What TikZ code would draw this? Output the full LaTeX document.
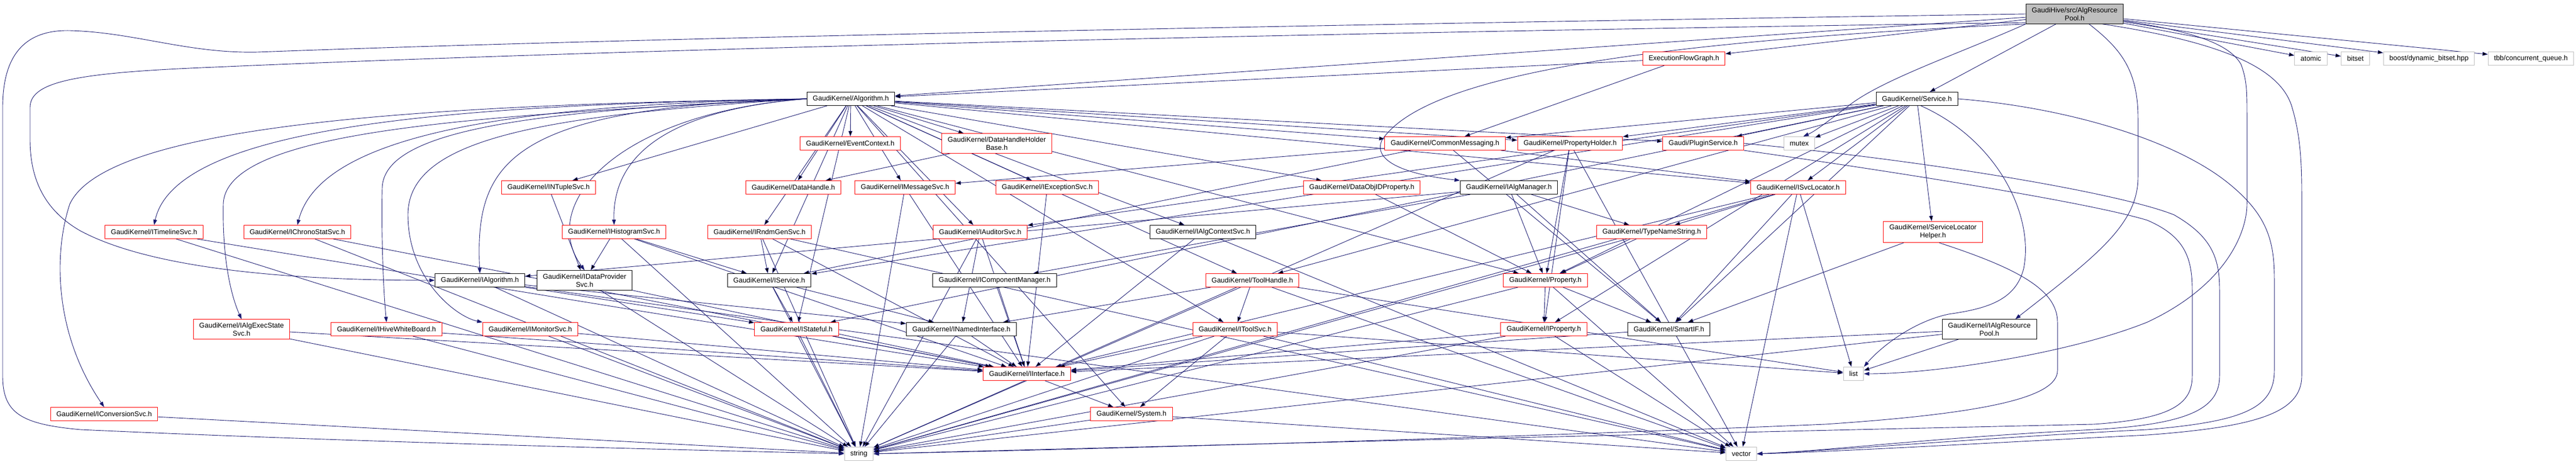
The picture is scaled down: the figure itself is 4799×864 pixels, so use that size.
\documentclass[tikz,border=0pt]{standalone}
\usepackage{fontspec}
\setmainfont{Liberation Sans}
\usetikzlibrary{arrows.meta}
\definecolor{edgeblue}{HTML}{191970}
\definecolor{cutred}{HTML}{FF0000}
\definecolor{sysgrey}{HTML}{BFBFBF}
\pgfdeclarelayer{back}
\pgfsetlayers{back,main}

\begin{document}
\begin{tikzpicture}[
    x=1pt, y=-1pt,
    >={Triangle[length=10pt,width=7pt]},
    hdr/.style={draw=black, line width=1pt, fill=white, inner xsep=11pt, inner ysep=6pt,
        minimum height=25pt, align=center, font=\fontsize{13}{15}\selectfont},
    cut/.style={hdr, draw=cutred},
    sys/.style={hdr, draw=sysgrey},
    rootfile/.style={hdr, fill=sysgrey},
    dep/.style={->, draw=edgeblue, line width=0.9pt}
]
\useasboundingbox (0,0) rectangle (4799,864);

% rank 0 and 1
\node[rootfile] (root) at (3865,26) {GaudiHive/src/AlgResource\\Pool.h};
\node[sys] (atomic) at (4305,109) {atomic};
\node[sys] (bitset) at (4388,109) {bitset};
\node[sys] (boostdb) at (4525,109) {boost/dynamic\_bitset.hpp};
\node[sys] (tbbq) at (4715,109) {tbb/concurrent\_queue.h};
\node[cut] (efg) at (3137,109) {ExecutionFlowGraph.h};
\node[hdr] (alg) at (1585,184) {GaudiKernel/Algorithm.h};
\node[hdr] (svc) at (3571,184) {GaudiKernel/Service.h};

% rank 2
\node[sys] (mutex) at (3352,267) {mutex};
\node[cut] (plugin) at (3173,267) {Gaudi/PluginService.h};
\node[cut] (commsg) at (2692,267) {GaudiKernel/CommonMessaging.h};
\node[cut] (propholder) at (2925,267) {GaudiKernel/PropertyHolder.h};
\node[cut] (evtctx) at (1584,267) {GaudiKernel/EventContext.h};
\node[cut] (dhhb) at (1857,267) {GaudiKernel/DataHandleHolder\\Base.h};

% rank 3
\node[cut] (ntuple) at (1022,349) {GaudiKernel/INTupleSvc.h};
\node[cut] (datahandle) at (1478,349) {GaudiKernel/DataHandle.h};
\node[cut] (msgsvc) at (1686,349) {GaudiKernel/IMessageSvc.h};
\node[cut] (excsvc) at (1951,349) {GaudiKernel/IExceptionSvc.h};
\node[cut] (dataobjid) at (2537,349) {GaudiKernel/DataObjIDProperty.h};
\node[hdr] (algmgr) at (2811,349) {GaudiKernel/IAlgManager.h};
\node[cut] (svcloc) at (3350,349) {GaudiKernel/ISvcLocator.h};

% rank 4
\node[cut] (timeline) at (287,432) {GaudiKernel/ITimelineSvc.h};
\node[cut] (chrono) at (554,432) {GaudiKernel/IChronoStatSvc.h};
\node[cut] (histo) at (1144,432) {GaudiKernel/IHistogramSvc.h};
\node[cut] (rndm) at (1415,432) {GaudiKernel/IRndmGenSvc.h};
\node[cut] (auditor) at (1826,432) {GaudiKernel/IAuditorSvc.h};
\node[hdr] (algctx) at (2241,432) {GaudiKernel/IAlgContextSvc.h};
\node[cut] (typename) at (3077,432) {GaudiKernel/TypeNameString.h};
\node[cut] (slhelper) at (3601,432) {GaudiKernel/ServiceLocator\\Helper.h};

% rank 5
\node[hdr] (ialg) at (894,522) {GaudiKernel/IAlgorithm.h};
\node[hdr] (idp) at (1089,522) {GaudiKernel/IDataProvider\\Svc.h};
\node[hdr] (iservice) at (1433,522) {GaudiKernel/IService.h};
\node[hdr] (compmgr) at (1853,522) {GaudiKernel/IComponentManager.h};
\node[cut] (toolhandle) at (2333,522) {GaudiKernel/ToolHandle.h};
\node[cut] (property) at (2879,522) {GaudiKernel/Property.h};

% rank 6
\node[cut] (execstate) at (450,613) {GaudiKernel/IAlgExecState\\Svc.h};
\node[cut] (whiteboard) at (720,613) {GaudiKernel/IHiveWhiteBoard.h};
\node[cut] (monitor) at (988,613) {GaudiKernel/IMonitorSvc.h};
\node[cut] (stateful) at (1484,613) {GaudiKernel/IStateful.h};
\node[hdr] (named) at (1791,613) {GaudiKernel/INamedInterface.h};
\node[cut] (toolsvc) at (2301,613) {GaudiKernel/IToolSvc.h};
\node[cut] (iproperty) at (2876,613) {GaudiKernel/IProperty.h};
\node[hdr] (smartif) at (3109,613) {GaudiKernel/SmartIF.h};
\node[hdr] (respool) at (3706,613) {GaudiKernel/IAlgResource\\Pool.h};

% rank 7 to 9
\node[cut] (iinterface) at (1913,696) {GaudiKernel/IInterface.h};
\node[sys] (list) at (3453,696) {list};
\node[cut] (conversion) at (194,771) {GaudiKernel/IConversionSvc.h};
\node[cut] (system) at (2108,771) {GaudiKernel/System.h};
\node[sys] (string) at (1600,845) {string};
\node[sys] (vector) at (3244,845) {vector};

\begin{pgfonlayer}{back}
\path[dep]
    (root) edge (atomic)
    (root) edge (bitset)
    (root) edge (boostdb)
    (root) edge (tbbq)
    (root) edge (efg)
    (root) edge (alg)
    (root) edge (svc)
    (efg) edge (alg)
    (efg) edge (commsg);

\path[dep]
    (alg) edge (evtctx)
    (alg) edge (dhhb)
    (alg) edge (ntuple)
    (alg) edge (datahandle)
    (alg) edge (msgsvc)
    (alg) edge (excsvc)
    (alg) edge (dataobjid)
    (alg) edge (commsg)
    (alg) edge (propholder)
    (alg) edge (plugin)
    (alg) edge (svcloc)
    (alg) edge (rndm)
    (alg) edge (auditor)
    (alg) edge (algctx)
    (alg) edge (iservice)
    (alg) edge (toolhandle)
    (alg) edge (property)
    (alg) edge (stateful)
    (alg) edge (toolsvc)
    (alg) edge (system);

% Algorithm.h fans out to the left
\draw[dep] (alg.west) .. controls (900,195) and (330,225) .. (timeline.north);
\draw[dep] (alg.west) .. controls (1000,195) and (600,240) .. (chrono.north);
\draw[dep] (alg.west) .. controls (800,195) and (200,230) .. (130,380)
    .. controls (100,470) and (100,620) .. (conversion.north);
\draw[dep] (alg.west) .. controls (900,215) and (420,240) .. (416,380)
    .. controls (414,480) and (430,550) .. (execstate.north);
\draw[dep] (alg.west) .. controls (1000,205) and (715,240) .. (712,350)
    .. controls (710,450) and (715,550) .. (whiteboard.north);
\draw[dep] (alg.west) .. controls (1000,215) and (760,260) .. (760,400)
    .. controls (760,520) and (850,590) .. (monitor.north west);
\draw[dep] (alg.west) .. controls (1300,200) and (1140,260) .. (histo.north);
\draw[dep] (alg.west) .. controls (950,200) and (884,300) .. (ialg.north);
\draw[dep] (alg.west) .. controls (1150,210) and (1000,380) .. (idp.north);

\path[dep]
    (svc) edge (commsg)
    (svc) edge (propholder)
    (svc) edge (plugin)
    (svc) edge (mutex)
    (svc) edge (svcloc)
    (svc) edge (slhelper)
    (svc) edge (iservice)
    (svc) edge (stateful)
    (svc) edge (auditor)
    (svc) edge (toolhandle)
    (svc) edge (property)
    (svc) edge (iproperty)
    (svc) edge (smartif);

\path[dep]
    (commsg) edge (msgsvc)
    (commsg) edge (iservice)
    (commsg) edge (svcloc)
    (commsg) edge (smartif)
    (propholder) edge (property)
    (propholder) edge (iproperty)
    (propholder) edge (string)
    (propholder) edge (vector)
    (dhhb) edge (datahandle)
    (ntuple) edge (idp)
    (msgsvc) edge (iinterface)
    (msgsvc) edge (string)
    (excsvc) edge (iinterface)
    (dataobjid) edge (property)
    (algmgr) edge (ialg)
    (algmgr) edge (compmgr)
    (algmgr) edge (typename)
    (algmgr) edge (smartif)
    (algmgr) edge (property)
    (svcloc) edge (typename)
    (svcloc) edge (iinterface)
    (svcloc) edge (smartif)
    (svcloc) edge (string)
    (svcloc) edge (list)
    (svcloc) edge (vector);

\path[dep]
    (timeline) edge (iinterface)
    (timeline) edge (string)
    (chrono) edge (iinterface)
    (chrono) edge (string)
    (histo) edge (idp)
    (histo) edge (iservice)
    (histo) edge (iinterface)
    (histo) edge (string)
    (rndm) edge (iservice)
    (rndm) edge (iinterface)
    (rndm) edge (string)
    (rndm) edge (vector)
    (auditor) edge (iinterface)
    (auditor) edge (named)
    (auditor) edge (string)
    (algctx) edge (iinterface)
    (algctx) edge (vector)
    (typename) edge (property)
    (typename) edge (string)
    (slhelper) edge (smartif);

\path[dep]
    (ialg) edge (named)
    (ialg) edge (stateful)
    (ialg) edge (string)
    (ialg) edge (vector)
    (idp) edge (iinterface)
    (idp) edge (string)
    (iservice) edge (stateful)
    (iservice) edge (named)
    (iservice) edge (string)
    (compmgr) edge (iinterface)
    (toolhandle) edge (toolsvc)
    (toolhandle) edge (named)
    (toolhandle) edge (string)
    (toolhandle) edge (vector)
    (toolhandle) edge (list)
    (property) edge (iproperty)
    (property) edge (smartif)
    (property) edge (string)
    (property) edge (vector);

\path[dep]
    (execstate) edge (iinterface)
    (execstate) edge (string)
    (whiteboard) edge (iinterface)
    (whiteboard) edge (string)
    (monitor) edge (iinterface)
    (monitor) edge (string)
    (stateful) edge (iinterface)
    (stateful) edge (string)
    (named) edge (iinterface)
    (named) edge (string)
    (toolsvc) edge (iinterface)
    (toolsvc) edge (system)
    (toolsvc) edge (string)
    (toolsvc) edge (list)
    (toolsvc) edge (vector)
    (iproperty) edge (iinterface)
    (iproperty) edge (string)
    (iproperty) edge (vector)
    (smartif) edge (iinterface)
    (respool) edge (iinterface)
    (respool) edge (list)
    (respool) edge (string)
    (iinterface) edge (system)
    (system) edge (string)
    (system) edge (vector)
    (conversion) edge (string);

% long routes around the graph
\draw[dep] (root.west) .. controls (2500,45) and (1200,70) .. (480,97)
    .. controls (350,100) and (250,60) .. (130,57)
    .. controls (40,55) and (5,110) .. (5,200) -- (5,700)
    .. controls (5,770) and (40,790) .. (150,800)
    .. controls (700,825) and (1300,838) .. (string.west);
\draw[dep] (root.190) .. controls (2500,60) and (1200,90) .. (400,125)
    .. controls (150,135) and (56,150) .. (56,200) -- (56,260)
    .. controls (56,330) and (80,390) .. (150,430)
    .. controls (300,510) and (600,522) .. (ialg.west);
\draw[dep] (root.south west) .. controls (3000,80) and (2650,150) .. (2575,260)
    .. controls (2555,300) and (2620,325) .. (algmgr.north west);
\draw[dep] (root.south west) .. controls (3650,100) and (3500,150) .. (3440,200)
    .. controls (3400,230) and (3380,245) .. (mutex.60);
\draw[dep] (root.-35) .. controls (3950,90) and (3983,130) .. (3983,220) -- (3983,330)
    .. controls (3983,420) and (3900,480) .. ([xshift=-40pt]respool.north east);
\draw[dep] (root.-8) .. controls (4060,55) and (4150,75) .. (4175,120)
    .. controls (4186,150) and (4186,170) .. (4186,220) -- (4186,380)
    .. controls (4186,430) and (4150,530) .. (4000,600)
    .. controls (3850,660) and (3600,696) .. (list.east);
\draw[dep] (root.-20) .. controls (4150,80) and (4250,130) .. (4270,200)
    .. controls (4285,250) and (4288,300) .. (4288,360) -- (4288,700)
    .. controls (4288,770) and (4200,795) .. (4000,810)
    .. controls (3700,825) and (3400,842) .. (vector.east);
\draw[dep] (svc.east) .. controls (3850,200) and (4050,260) .. (4150,340)
    .. controls (4225,400) and (4237,450) .. (4237,520) -- (4237,690)
    .. controls (4237,760) and (4180,785) .. (4000,800)
    .. controls (3700,815) and (3400,840) .. (vector.east);
\draw[dep] (svc.-60) .. controls (3720,260) and (3790,400) .. (3770,500)
    .. controls (3755,560) and (3700,575) .. (3630,585)
    .. controls (3560,600) and (3500,650) .. (list.north east);
\draw[dep] (plugin.south east) .. controls (3600,330) and (3900,380) .. (4000,410)
    .. controls (4070,440) and (4084,480) .. (4084,540) -- (4084,700)
    .. controls (4084,750) and (4050,780) .. (3900,790)
    .. controls (3000,810) and (2200,830) .. (string.east);
\draw[dep] (plugin.east) .. controls (3600,300) and (3950,360) .. (4050,400)
    .. controls (4120,440) and (4135,480) .. (4135,540) -- (4135,700)
    .. controls (4135,760) and (4080,790) .. (3900,800)
    .. controls (3600,815) and (3400,840) .. (vector.east);
\draw[dep] (slhelper.-60) .. controls (3760,500) and (3833,540) .. (3833,600) -- (3833,690)
    .. controls (3833,740) and (3700,770) .. (3400,790)
    .. controls (2800,815) and (2100,835) .. (string.east);
\end{pgfonlayer}
\end{tikzpicture}
\end{document}
